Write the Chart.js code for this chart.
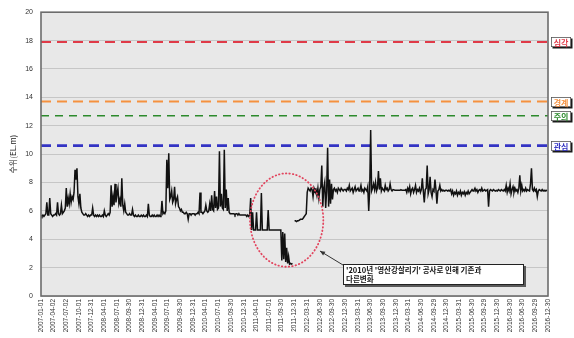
<!DOCTYPE html>
<html>
<head>
<meta charset="utf-8">
<script src="https://cdn.jsdelivr.net/npm/chart.js@4.4.1/dist/chart.umd.min.js"></script>
<style>
  html, body { margin: 0; padding: 0; background: #ffffff; }
  #wrap { width: 574px; height: 338px; }
</style>
</head>
<body>
<div id="wrap"><canvas id="c" width="574" height="338"></canvas></div>
<script>
// Quarterly date labels along the time axis
const tickLabels = [
  '2007-01-01','2007-04-02','2007-07-02','2007-10-01','2007-12-31','2008-04-01','2008-07-01','2008-09-30',
  '2008-12-31','2009-04-01','2009-07-01','2009-09-30','2009-12-31','2010-04-01','2010-07-01','2010-09-30',
  '2010-12-31','2011-04-01','2011-07-01','2011-09-30','2011-12-31','2012-03-31','2012-06-30','2012-09-30',
  '2012-12-30','2013-03-31','2013-06-30','2013-09-30','2013-12-30','2014-03-31','2014-06-30','2014-09-29',
  '2014-12-30','2015-03-31','2015-06-30','2015-09-29','2015-12-30','2016-03-30','2016-06-30','2016-09-29',
  '2016-12-30'
];

// Weekly water level (EL.m), one array per year, week 0 = Jan 1
const level2007 = [
  5.7,5.6,5.7,5.6,5.7,5.8,6.6,5.7,5.7,6.9,5.8,5.7,5.6,
  5.7,5.7,5.8,5.7,6.6,5.8,5.7,5.8,6.4,5.8,5.9,6.0,6.2,
  7.6,6.3,6.9,6.5,7.2,6.6,7.0,6.8,7.3,8.9,8.2,9.0,7.0,
  6.5,7.2,6.2,5.9,5.8,5.7,5.7,5.8,5.7,5.6,5.7,5.6,5.7
];
const level2008 = [
  5.7,6.2,5.7,5.6,5.7,5.6,5.7,5.6,5.7,5.6,5.6,5.7,5.6,
  6.0,5.7,5.6,5.7,5.8,5.7,5.9,7.8,6.3,7.0,6.4,7.9,6.6,
  7.2,7.6,6.5,6.8,6.3,8.3,6.4,6.0,6.5,5.9,5.8,5.7,5.7,
  5.8,5.7,5.7,6.1,5.7,5.6,5.7,5.6,5.6,5.7,5.6,5.6,5.7
];
const level2009 = [
  5.6,5.7,5.6,5.6,5.7,5.6,6.5,5.7,5.6,5.6,5.7,5.6,5.7,
  5.6,5.6,5.7,5.6,5.7,5.6,5.7,6.7,5.8,5.9,5.8,6.0,9.6,
  7.6,10.05,6.8,7.0,7.4,6.6,6.8,7.7,6.5,6.8,7.0,6.3,6.2,
  6.0,6.1,5.9,5.9,5.8,5.8,5.9,5.8,5.4,5.8,5.8,5.7,5.8
];
const level2010 = [
  5.8,5.8,5.7,5.8,5.8,5.9,5.8,7.3,5.9,5.9,5.8,5.9,6.0,
  6.4,6.0,5.9,6.0,6.5,6.0,7.1,6.1,6.0,7.4,6.2,7.0,6.1,
  6.2,10.2,6.3,7.2,6.2,6.1,10.3,6.2,7.5,6.0,6.9,5.9,5.8,
  5.8,5.8,5.8,5.8,5.7,5.8,5.8,5.7,5.8,5.7,5.7,5.7,5.7
];
const level2011 = [
  5.7,5.7,5.7,5.6,5.7,5.6,5.7,6.9,4.65,5.9,4.65,4.65,4.65,
  5.9,4.65,4.65,4.65,4.65,7.25,4.65,4.65,4.65,4.65,4.65,4.65,6.05,
  4.65,4.65,4.65,4.65,4.65,4.65,4.65,4.65,4.65,4.65,4.65,4.65,4.65,
  2.5,4.5,2.6,4.4,2.4,3.4,2.3,2.8,2.25,2.3,2.25,2.3,null
];
const level2012 = [
  5.3,5.3,5.25,5.3,5.3,5.35,5.4,5.4,5.4,5.5,5.6,5.7,5.8,
  7.3,7.6,7.5,7.4,7.6,7.5,7.0,7.6,7.4,7.5,7.1,7.6,6.9,
  7.5,7.7,9.2,6.3,7.6,8.0,6.2,7.4,10.45,6.3,8.2,6.5,7.9,
  6.8,7.5,7.6,7.4,7.5,7.3,7.6,7.5,7.4,7.6,7.5,7.4,7.5
];
const level2013 = [
  7.5,7.4,7.6,7.5,7.8,7.4,7.5,7.6,7.3,7.5,7.7,7.4,7.5,
  7.6,7.4,7.5,7.8,7.4,7.5,7.3,7.6,7.5,7.4,7.7,6.0,7.5,
  11.7,7.4,7.6,7.9,7.5,8.0,7.4,7.6,8.8,7.5,8.3,7.4,7.6,
  7.5,7.4,7.8,7.5,7.6,7.4,7.5,7.9,7.5,7.4,7.5,7.5,7.45
];
const level2014 = [
  7.45,7.45,7.45,7.45,7.45,7.5,7.45,7.45,7.45,7.45,7.5,7.3,7.6,
  7.4,7.7,7.2,7.5,7.6,7.3,7.5,7.8,7.3,7.5,7.4,7.6,7.3,
  7.5,8.3,7.4,6.6,7.5,7.6,9.2,7.2,7.5,8.4,7.3,7.0,7.5,
  7.4,8.2,7.5,6.5,7.4,7.5,7.8,7.4,7.5,7.4,7.45,7.4,7.45
];
const level2015 = [
  7.45,7.4,7.45,7.4,7.5,7.2,7.4,7.1,7.3,7.2,7.4,7.1,7.3,
  7.2,7.4,7.1,7.3,7.2,7.35,7.1,7.3,7.2,7.4,7.2,7.3,7.4,
  7.5,7.4,7.45,7.6,7.4,7.5,7.3,7.45,7.5,7.4,7.6,7.4,7.45,
  7.5,7.4,7.45,7.5,6.3,7.4,7.5,7.45,7.4,7.5,7.45,7.4,7.45
];
const level2016 = [
  7.4,7.5,7.45,7.4,7.5,7.45,7.4,7.5,7.4,7.8,7.3,7.6,7.4,
  7.9,7.2,7.5,7.7,7.3,7.6,7.4,7.5,7.3,7.6,8.5,7.4,7.8,
  7.4,7.5,7.4,7.6,7.4,7.5,7.45,7.4,7.9,9.0,7.5,7.4,7.6,
  7.4,7.5,7.0,7.4,7.5,7.45,7.4,7.5,7.4,7.45,7.4,7.45,7.4
];
const levelYears = [2007, 2008, 2009, 2010, 2011, 2012, 2013, 2014, 2015, 2016];
const levelSeries = [level2007, level2008, level2009, level2010, level2011,
                     level2012, level2013, level2014, level2015, level2016];

// Alert thresholds
const thresholdNames  = ['심각', '경계', '주의', '관심'];
const thresholdLevels = [17.9, 13.7, 12.7, 10.6];
const thresholdColors = ['#e03a48', '#f5913f', '#2c8a2c', '#3434c4'];

const calloutLines = ["'2010년 '영산강살리기' 공사로 인해 기존과", '다른변화'];

// ---- derived structures ----
const DAY = 86400000;
const ORIGIN = Date.UTC(2007, 0, 1);
const dayOf = s => (Date.parse(s) - ORIGIN) / DAY;
const tickDays = tickLabels.map(dayOf);
const lastDay = tickDays[tickDays.length - 1];

const levelPoints = [];
levelYears.forEach((yr, k) => {
  const start = (Date.UTC(yr, 0, 1) - ORIGIN) / DAY;
  levelSeries[k].forEach((v, i) => levelPoints.push({ x: start + 7 * i, y: v }));
});

const thresholdStyles = [
  { width: 2.0, dash: [10, 6] },
  { width: 2.0, dash: [10, 6] },
  { width: 1.4, dash: [8, 6] },
  { width: 2.6, dash: [10, 6] }
];

const datasets = [{
  label: '수위',
  data: levelPoints,
  borderColor: '#111111',
  borderWidth: 1.5,
  pointRadius: 0,
  spanGaps: false,
  tension: 0,
  order: 0
}];
thresholdLevels.forEach((lv, i) => {
  datasets.push({
    label: thresholdNames[i],
    data: [{ x: 0, y: lv }, { x: lastDay, y: lv }],
    borderColor: thresholdColors[i],
    borderWidth: thresholdStyles[i].width,
    borderDash: thresholdStyles[i].dash,
    pointRadius: 0,
    order: 1
  });
});

// Region of interest marked with a dotted ellipse and a callout note
const focusEllipse = { day: 1769, level: 5.35, rDays: 264, rLevel: 3.29 };
const arrowTip = { day: 2009, level: 3.17 };
const calloutAnchor = { day: 2175, level: 2.25 };

const plotDecor = {
  id: 'plotDecor',
  beforeDraw(chart) {
    const { ctx, chartArea: a } = chart;
    ctx.save();
    ctx.fillStyle = '#e8e8e8';
    ctx.fillRect(a.left, a.top, a.right - a.left, a.bottom - a.top);
    ctx.restore();
  },
  afterDraw(chart) {
    const { ctx, chartArea: a } = chart;
    const xs = chart.scales.x, ys = chart.scales.y;
    ctx.save();

    // plot frame
    ctx.strokeStyle = '#6c6c6c';
    ctx.lineWidth = 1.6;
    ctx.strokeRect(a.left, a.top, a.right - a.left, a.bottom - a.top);

    // threshold tags on the right
    ctx.font = 'bold 8px "Noto Sans CJK KR"';
    ctx.textAlign = 'center';
    ctx.textBaseline = 'middle';
    thresholdLevels.forEach((lv, i) => {
      const y = Math.round(ys.getPixelForValue(lv));
      const x0 = a.right + 3, w = 20, h = 10;
      ctx.fillStyle = '#1a1a1a';
      ctx.fillRect(x0 + 1.5, y - h / 2 + 1.5, w, h);
      ctx.fillStyle = '#ffffff';
      ctx.fillRect(x0, y - h / 2, w, h);
      ctx.strokeStyle = '#555555';
      ctx.lineWidth = 0.8;
      ctx.strokeRect(x0 + 0.4, y - h / 2 + 0.4, w - 0.8, h - 0.8);
      ctx.fillStyle = thresholdColors[i];
      ctx.fillText(thresholdNames[i], x0 + w / 2, y + 0.5);
    });

    // dotted ellipse
    const cx = xs.getPixelForValue(focusEllipse.day);
    const cy = ys.getPixelForValue(focusEllipse.level);
    const rx = xs.getPixelForValue(focusEllipse.day + focusEllipse.rDays) - cx;
    const ry = cy - ys.getPixelForValue(focusEllipse.level + focusEllipse.rLevel);
    ctx.beginPath();
    ctx.ellipse(cx, cy, rx, ry, 0, 0, Math.PI * 2);
    ctx.strokeStyle = '#e2455e';
    ctx.lineWidth = 1.8;
    ctx.lineCap = 'round';
    ctx.setLineDash([0.5, 3]);
    ctx.stroke();
    ctx.setLineDash([]);
    ctx.lineCap = 'butt';

    // callout box
    const bx = Math.round(xs.getPixelForValue(calloutAnchor.day));
    const by = Math.round(ys.getPixelForValue(calloutAnchor.level));
    const bw = 181, bh = 21;
    ctx.fillStyle = '#5a5a5a';
    ctx.fillRect(bx + 2, by + 2, bw, bh);
    ctx.fillStyle = '#ffffff';
    ctx.fillRect(bx, by, bw, bh);
    ctx.strokeStyle = '#222222';
    ctx.lineWidth = 1;
    ctx.strokeRect(bx + 0.5, by + 0.5, bw - 1, bh - 1);
    ctx.fillStyle = '#111111';
    ctx.font = 'bold 7.5px "Noto Sans CJK KR"';
    ctx.textAlign = 'left';
    ctx.textBaseline = 'middle';
    ctx.fillText(calloutLines[0], bx + 3, by + 6);
    ctx.fillText(calloutLines[1], bx + 3, by + 15);

    // arrow from the box corner to the ellipse
    const tx = xs.getPixelForValue(arrowTip.day);
    const ty = ys.getPixelForValue(arrowTip.level);
    ctx.strokeStyle = '#333333';
    ctx.lineWidth = 1;
    ctx.beginPath();
    ctx.moveTo(bx, by + 1);
    ctx.lineTo(tx, ty);
    ctx.stroke();
    const ang = Math.atan2(ty - (by + 1), tx - bx);
    const hl = 5, hw = 2.2;
    ctx.beginPath();
    ctx.moveTo(tx, ty);
    ctx.lineTo(tx - hl * Math.cos(ang) + hw * Math.sin(ang), ty - hl * Math.sin(ang) - hw * Math.cos(ang));
    ctx.lineTo(tx - hl * Math.cos(ang) - hw * Math.sin(ang), ty - hl * Math.sin(ang) + hw * Math.cos(ang));
    ctx.closePath();
    ctx.fillStyle = '#333333';
    ctx.fill();

    ctx.restore();
  }
};

new Chart(document.getElementById('c'), {
  type: 'line',
  data: { datasets },
  options: {
    responsive: false,
    animation: false,
    devicePixelRatio: 1,
    layout: { padding: { top: 12, right: 26, left: 0, bottom: 0 } },
    plugins: { legend: { display: false }, tooltip: { enabled: false } },
    scales: {
      x: {
        type: 'linear',
        min: 0,
        max: lastDay,
        grid: { display: false, drawTicks: false },
        border: { display: false },
        afterBuildTicks: s => { s.ticks = tickDays.map(v => ({ value: v })); },
        afterFit: s => { s.height = 42; },
        ticks: {
          autoSkip: false,
          minRotation: 90,
          maxRotation: 90,
          padding: 3,
          color: '#333333',
          font: { family: 'Liberation Sans', size: 6.5 },
          callback: (v, i) => tickLabels[i]
        }
      },
      y: {
        min: 0,
        max: 20,
        grid: { color: '#c6c6c6', lineWidth: 1, drawTicks: false },
        border: { display: false },
        afterFit: s => { s.width = 41; },
        ticks: {
          stepSize: 2,
          padding: 8,
          color: '#333333',
          font: { family: 'Liberation Sans', size: 7 }
        },
        title: {
          display: true,
          text: '수위(EL.m)',
          color: '#222222',
          font: { family: 'Noto Sans CJK KR', size: 8 },
          padding: { top: 8, bottom: 0 }
        }
      }
    }
  },
  plugins: [plotDecor]
});
</script>
</body>
</html>
